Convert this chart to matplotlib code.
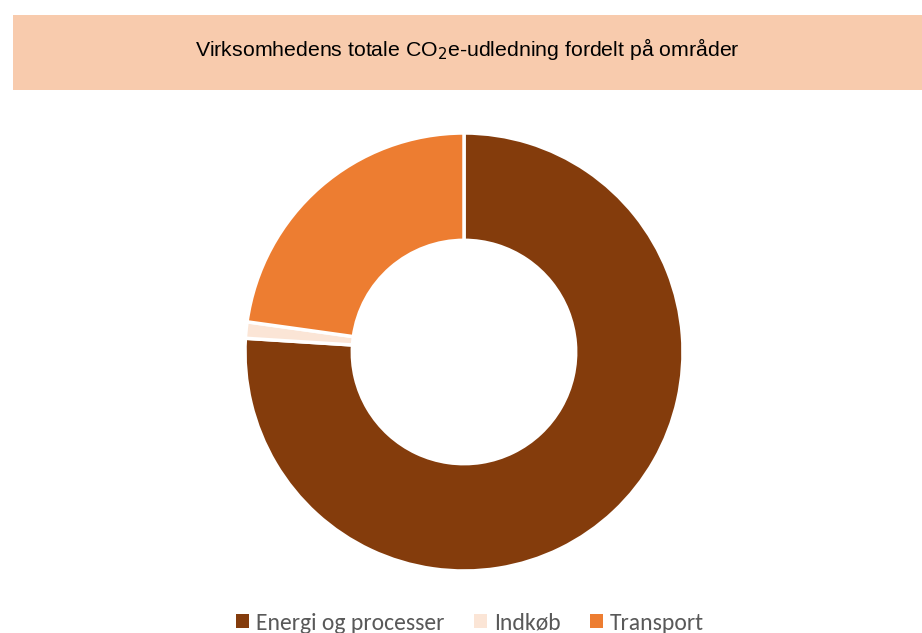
import matplotlib.pyplot as plt
from matplotlib.patches import Rectangle

labels = ['Energi og processer', 'Indkøb', 'Transport']
values = [76.0, 1.2, 22.8]
colors = ['#843C0C', '#FBE5D6', '#ED7D31']
title = 'Virksomhedens totale CO$_2$e-udledning fordelt på områder'

fig = plt.figure(figsize=(9.22, 6.33), dpi=100)

# header band
fig.patches.append(Rectangle((13 / 922, 1 - 90 / 633), 1 - 13 / 922, 75 / 633,
                             transform=fig.transFigure, facecolor='#F8CBAD',
                             edgecolor='none', zorder=0))
fig.text(467 / 922, 1 - 49 / 633, title, ha='center', va='center',
         fontsize=15.3, family='Liberation Sans', color='black')

# donut
ax = fig.add_axes([(464 - 219) / 922, 1 - (352 + 219) / 633, 438 / 922, 438 / 633])
wedges, _ = ax.pie(values, colors=colors, startangle=90, counterclock=False,
                   radius=1.0,
                   wedgeprops=dict(width=0.49, edgecolor='white', linewidth=2.5))
ax.set_aspect('equal')
ax.set_xlim(-1, 1)
ax.set_ylim(-1, 1)

leg = fig.legend(wedges, labels, loc='center', bbox_to_anchor=(470 / 922, 1 - 623 / 633),
                 ncol=3, frameon=False, fontsize=17, handlelength=0.55, handleheight=0.55,
                 handletextpad=0.3, columnspacing=1.25)
for h in leg.legend_handles:
    h.set_linewidth(0)
for t in leg.get_texts():
    t.set_color('#595959')
    t.set_family(['Carlito', 'Open Sans', 'DejaVu Sans'])

fig.savefig('out.png', dpi=100, facecolor='white')
